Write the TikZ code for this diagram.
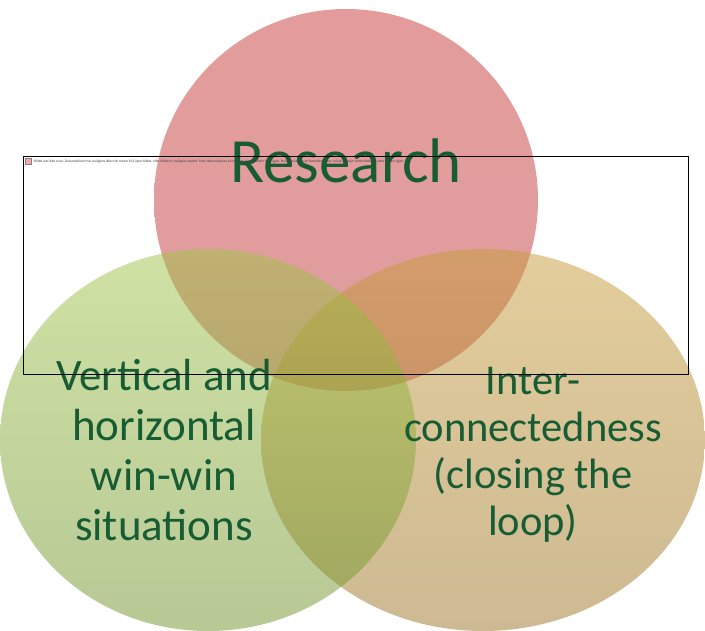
\documentclass[tikz,border=0pt]{standalone}
\usepackage{fontspec}
\setmainfont{Carlito}
\definecolor{txtgreen}{RGB}{24,92,52}
\definecolor{redtop}{RGB}{200,56,56}
\definecolor{redbot}{RGB}{192,62,62}
\definecolor{greentop}{RGB}{160,196,72}
\definecolor{greenbot}{RGB}{112,146,44}
\definecolor{tantop}{RGB}{200,156,58}
\definecolor{tanbot}{RGB}{156,116,38}
\tikzset{
  venn/.style={fill opacity=0.5},
  lefttext/.style={text=txtgreen, font=\fontsize{45}{50}\selectfont, anchor=base, inner sep=0},
  righttext/.style={text=txtgreen, font=\fontsize{42.5}{48}\selectfont, anchor=base, inner sep=0},
}
\begin{document}
\begin{tikzpicture}[x=1pt,y=-1pt]
\useasboundingbox (0,0) rectangle (705,630);
% circles
\shade[venn, top color=redtop, bottom color=redbot] (346,200) ellipse [x radius=192, y radius=191];
\shade[venn, top color=tantop, bottom color=tanbot] (483,440) ellipse [x radius=222, y radius=191];
\shade[venn, top color=greentop, bottom color=greenbot] (208,440) ellipse [x radius=208, y radius=191];
% texts
\node[text=txtgreen, font=\fontsize{63}{70}\selectfont, anchor=base, inner sep=0] (research) at (346,182) {Research};
\node[lefttext] (l1) at (164,390) {Vertical and};
\node[lefttext] (l2) at (164,440) {horizontal};
\node[lefttext] (l3) at (164,490) {win-win};
\node[lefttext] (l4) at (164,540) {situations};
\node[righttext] (r1) at (533,394) {Inter-};
\node[righttext] (r2) at (533,441) {connectedness};
\node[righttext] (r3) at (533,488) {(closing the};
\node[righttext] (r4) at (533,535) {loop)};
% broken picture frame
\draw[line width=0.8pt, black] (23,156) rectangle (688,374);
\node[draw=gray, fill=red!35, minimum size=6pt, inner sep=0, anchor=north west] (icon) at (25,158) {};
\node[anchor=west, inner sep=0, text=black!75] (msg) at (34,161.5) {\resizebox{370pt}{!}{Bildet kan ikke vises. Datamaskinen har muligens ikke nok minne til å åpne bildet, eller bildet er muligens skadet. Start datamaskinen på nytt, og åpne deretter filen igjen. Hvis den røde x-en fremdeles vises, må du kanskje slette bildet og sette det inn igjen.}};
\end{tikzpicture}
\end{document}
